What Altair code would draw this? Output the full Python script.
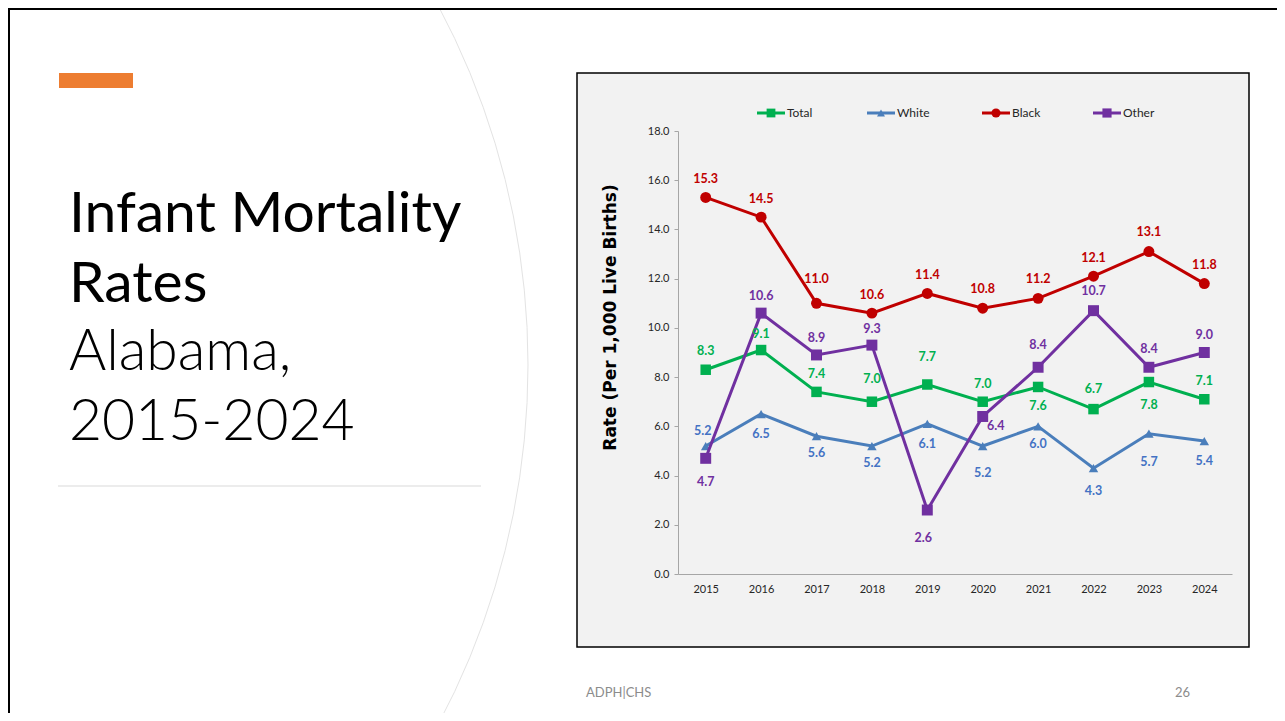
import altair as alt
import pandas as pd

# ---------------- data ----------------
years = [2015, 2016, 2017, 2018, 2019, 2020, 2021, 2022, 2023, 2024]
series_names = ["Total", "White", "Black", "Other"]
total = [8.3, 9.1, 7.4, 7.0, 7.7, 7.0, 7.6, 6.7, 7.8, 7.1]
white = [5.2, 6.5, 5.6, 5.2, 6.1, 5.2, 6.0, 4.3, 5.7, 5.4]
black = [15.3, 14.5, 11.0, 10.6, 11.4, 10.8, 11.2, 12.1, 13.1, 11.8]
other = [4.7, 10.6, 8.9, 9.3, 2.6, 6.4, 8.4, 10.7, 8.4, 9.0]

# label placement (pixels, relative to the point)
total_dy = [-19, -16, -18, -23, -27, -18, 19, -20, 23, -18]
white_dy = [-15, 20, 17, 17, 20, 27, 18, 23, 28, 20]
black_dy = [-18, -18, -24, -18, -18, -19, -19, -18, -20, -19]
other_dy = [24, -17, -17, -16, 28, 10, -22, -20, -18, -18]
white_dx = [-3, 0, 0, 0, 0, 0, 0, 0, 0, 0]
other_dx = [0, 0, 0, 0, -4, 13, 0, 0, 0, 0]
zero_dx = [0] * 10

title_lines = ["Infant Mortality", "Rates", "Alabama,", "2015-2024"]
y_title = "Rate (Per 1,000 Live Births)"
footer_left = "ADPH|CHS"
footer_right = "26"

# ---------------- styles ----------------
line_colors = {"Total": "#00B050", "White": "#4A7EBB", "Black": "#C00000", "Other": "#7030A0"}
label_colors = {"Total": "#00B050", "White": "#4472C4", "Black": "#C00000", "Other": "#7030A0"}
shapes = {"Total": "square", "White": "triangle-up", "Black": "circle", "Other": "square"}
sizes = {"Total": 110, "White": 90, "Black": 120, "Other": 120}

values = {"Total": total, "White": white, "Black": black, "Other": other}
dys = {"Total": total_dy, "White": white_dy, "Black": black_dy, "Other": other_dy}
dxs = {"Total": zero_dx, "White": white_dx, "Black": zero_dx, "Other": other_dx}

FONT = "Lato"

x_enc = alt.X(
    "year:Q",
    scale=alt.Scale(domain=[2014.5, 2024.5], nice=False, zero=False),
    axis=alt.Axis(values=years, format="d", title=None, ticks=False, grid=False,
                  labelFont=FONT, labelFontSize=11, labelColor="#262626",
                  domainColor="#a6a6a6", labelPadding=9, zindex=2),
)
y_enc = alt.Y(
    "value:Q",
    scale=alt.Scale(domain=[0, 18], nice=False),
    axis=alt.Axis(values=[0, 2, 4, 6, 8, 10, 12, 14, 16, 18], format=".1f",
                  title=y_title, titleFont="DejaVu Sans", titleFontSize=17,
                  titleFontWeight="bold", titleColor="black", titleAngle=270,
                  titleX=-68, titleY=186, titleAlign="center", titleBaseline="middle",
                  tickSize=4, tickColor="#a6a6a6", domainColor="#a6a6a6",
                  labelFont=FONT, labelFontSize=11, labelColor="#262626",
                  labelPadding=5, grid=False, zindex=2),
)

one = pd.DataFrame({"d": [0]})
layers = []

# slide decorations
layers.append(alt.Chart(one).mark_point(shape="circle", filled=False, stroke="#e3e3e3",
                                         strokeWidth=1, size=2334784, opacity=1)
              .encode(x=alt.value(-914), y=alt.value(234)))
layers.append(alt.Chart(one).mark_rule(color="black", strokeWidth=2)
              .encode(x=alt.value(-670), x2=alt.value(610), y=alt.value(-122)))
layers.append(alt.Chart(one).mark_rule(color="black", strokeWidth=2)
              .encode(x=alt.value(-669), y=alt.value(-123), y2=alt.value(600)))
layers.append(alt.Chart(one).mark_rect(color="#ED7D31")
              .encode(x=alt.value(-619), x2=alt.value(-545), y=alt.value(-58), y2=alt.value(-43)))
layers.append(alt.Chart(one).mark_rule(color="#d9d9d9", strokeWidth=1)
              .encode(x=alt.value(-620), x2=alt.value(-197), y=alt.value(355)))
title_baselines = [101, 171, 239, 309]
title_weights = [400, 400, 300, 300]
for txt, by, fw in zip(title_lines, title_baselines, title_weights):
    layers.append(alt.Chart(one).mark_text(align="left", baseline="alphabetic", font=FONT,
                                           fontSize=57, fontWeight=fw, color="black")
                  .encode(x=alt.value(-609), y=alt.value(by), text=alt.value(txt)))
layers.append(alt.Chart(one).mark_text(align="left", baseline="middle", font=FONT,
                                       fontSize=13, color="#8c8c8c")
              .encode(x=alt.value(-92), y=alt.value(562), text=alt.value(footer_left)))
layers.append(alt.Chart(one).mark_text(align="right", baseline="middle", font=FONT,
                                       fontSize=13, color="#8c8c8c")
              .encode(x=alt.value(512), y=alt.value(562), text=alt.value(footer_right)))

# chart box
layers.append(alt.Chart(one).mark_rect(fill="#f2f2f2", stroke="black", strokeWidth=1.5)
              .encode(x=alt.value(-101), x2=alt.value(571), y=alt.value(-58), y2=alt.value(516)))

# legend
legend_x = [79, 189, 304, 415]
for name, lx in zip(series_names, legend_x):
    c = line_colors[name]
    layers.append(alt.Chart(one).mark_rule(color=c, strokeWidth=3)
                  .encode(x=alt.value(lx), x2=alt.value(lx + 28), y=alt.value(-18)))
    layers.append(alt.Chart(one).mark_point(shape=shapes[name], filled=True, color=c,
                                             size=sizes[name] * 0.7, opacity=1)
                  .encode(x=alt.value(lx + 14), y=alt.value(-18)))
    layers.append(alt.Chart(one).mark_text(align="left", baseline="middle", font=FONT,
                                           fontSize=12, color="#262626")
                  .encode(x=alt.value(lx + 30), y=alt.value(-18), text=alt.value(name)))

# series
for name in series_names:
    df = pd.DataFrame({"year": years, "value": values[name]})
    base = alt.Chart(df).encode(x=x_enc, y=y_enc)
    layers.append(base.mark_line(color=line_colors[name], strokeWidth=3))
    layers.append(base.mark_point(shape=shapes[name], filled=True, color=line_colors[name],
                                  size=sizes[name], opacity=1))

# data labels (one per point, placed with dx/dy)
for name in series_names:
    df = pd.DataFrame({"year": years, "value": values[name]})
    for yr, ddy, ddx in zip(years, dys[name], dxs[name]):
        layers.append(
            alt.Chart(df).transform_filter(alt.datum.year == yr)
            .mark_text(font=FONT, fontSize=12.5, fontWeight="bold", color=label_colors[name],
                       baseline="middle", dy=ddy, dx=ddx)
            .encode(x=x_enc, y=y_enc, text=alt.Text("value:Q", format=".1f"))
        )

chart = (
    alt.layer(*layers)
    .properties(width=554, height=443, autosize="none",
                padding={"left": 670, "top": 123, "right": 45, "bottom": 139},
                background="white")
    .configure_view(stroke=None)
)

chart.save("out.html", embed_options={"renderer": "svg", "actions": False})
